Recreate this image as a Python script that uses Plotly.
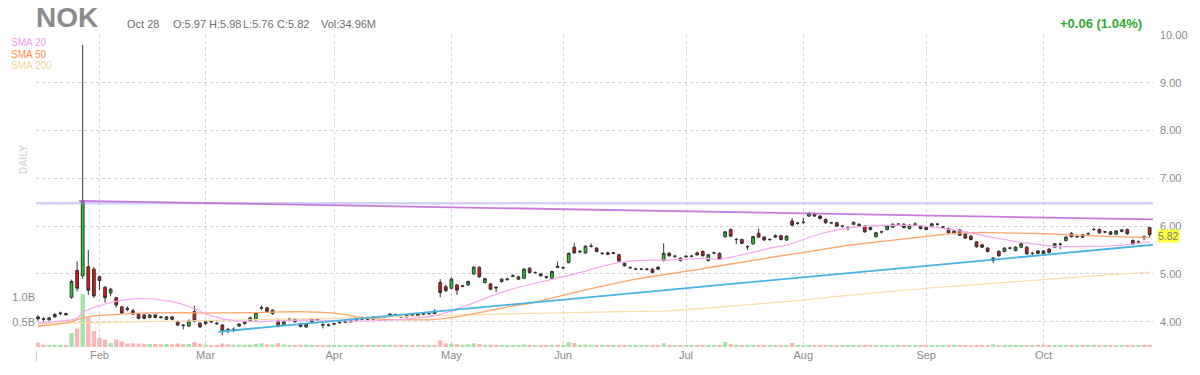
import pandas as pd
import plotly.graph_objects as go

# ---------------- data ----------------
holidays = ["2021-01-18", "2021-02-15", "2021-04-02", "2021-05-31", "2021-07-05", "2021-09-06"]
dates = [d for d in pd.bdate_range("2021-01-14", "2021-10-28") if d.strftime("%Y-%m-%d") not in holidays]

opens = [4.10, 4.06, 4.04, 4.10, 4.17, 4.17, 4.51, 5.07, 4.96, 5.15,
         5.10, 4.94, 4.72, 4.60, 4.50, 4.31, 4.28, 4.23, 4.16, 4.14,
         4.09, 4.14, 4.10, 4.05, 4.10, 4.00, 3.93, 3.91, 4.21, 3.97,
         3.96, 4.01, 3.97, 3.93, 3.84, 3.83, 3.91, 3.96, 4.02, 4.04,
         4.28, 4.29, 4.17, 4.01, 3.93, 4.05, 4.05, 3.95, 3.89, 4.00,
         4.05, 3.94, 3.92, 3.95, 3.98, 3.99, 4.00, 4.03, 4.05, 4.08,
         4.05, 4.10, 4.09, 4.12, 4.15, 4.11, 4.10, 4.15, 4.12, 4.17,
         4.17, 4.22, 4.82, 4.73, 4.70, 4.77, 4.74, 4.77, 5.00, 5.14,
         4.82, 4.79, 4.72, 4.84, 4.88, 4.95, 4.89, 4.91, 5.12, 5.03,
         5.00, 4.94, 4.91, 5.16, 5.13, 5.24, 5.56, 5.46, 5.44, 5.58,
         5.54, 5.43, 5.44, 5.43, 5.40, 5.22, 5.13, 5.10, 5.10, 5.10,
         5.10, 5.14, 5.28, 5.43, 5.37, 5.33, 5.36, 5.37, 5.44, 5.47,
         5.28, 5.44, 5.43, 5.78, 5.93, 5.72, 5.72, 5.57, 5.63, 5.85,
         5.77, 5.72, 5.77, 5.80, 5.71, 6.11, 6.06, 6.08, 6.21, 6.26,
         6.21, 6.14, 6.07, 6.07, 6.00, 5.97, 6.04, 6.00, 6.00, 5.97,
         5.78, 5.88, 5.93, 5.98, 6.04, 6.04, 5.95, 6.04, 6.00, 5.97,
         6.00, 6.04, 5.98, 5.95, 5.85, 5.92, 5.84, 5.79, 5.67, 5.61,
         5.54, 5.28, 5.47, 5.47, 5.54, 5.49, 5.56, 5.56, 5.43, 5.48,
         5.48, 5.52, 5.56, 5.62, 5.70, 5.85, 5.78, 5.82, 5.84, 5.93,
         5.93, 5.88, 5.88, 5.83, 5.89, 5.93, 5.70, 5.67, 5.78, 5.97]

highs = [4.14, 4.09, 4.10, 4.18, 4.21, 4.19, 4.88, 5.26, 9.79, 5.50,
         5.15, 4.96, 4.75, 4.71, 4.52, 4.33, 4.32, 4.27, 4.18, 4.16,
         4.16, 4.16, 4.12, 4.12, 4.12, 4.02, 3.95, 4.05, 4.33, 3.99,
         4.02, 4.03, 3.99, 3.95, 3.87, 3.88, 3.97, 4.01, 4.10, 4.20,
         4.34, 4.31, 4.26, 4.07, 4.02, 4.08, 4.07, 3.97, 3.97, 4.08,
         4.07, 3.97, 3.96, 3.98, 4.01, 4.02, 4.03, 4.07, 4.10, 4.10,
         4.11, 4.12, 4.12, 4.18, 4.17, 4.13, 4.16, 4.17, 4.18, 4.19,
         4.19, 4.26, 4.89, 4.77, 4.93, 4.79, 4.77, 4.86, 5.16, 5.16,
         4.92, 4.81, 4.74, 4.91, 4.92, 4.99, 4.96, 5.12, 5.14, 5.05,
         5.02, 4.96, 5.07, 5.26, 5.16, 5.45, 5.65, 5.50, 5.60, 5.64,
         5.56, 5.46, 5.47, 5.46, 5.42, 5.24, 5.16, 5.13, 5.12, 5.12,
         5.12, 5.16, 5.64, 5.46, 5.40, 5.35, 5.39, 5.40, 5.47, 5.49,
         5.42, 5.47, 5.45, 5.90, 5.95, 5.75, 5.74, 5.60, 5.80, 5.95,
         5.79, 5.75, 5.83, 5.82, 5.81, 6.17, 6.09, 6.17, 6.29, 6.28,
         6.23, 6.16, 6.09, 6.09, 6.02, 5.99, 6.10, 6.06, 6.02, 5.99,
         5.88, 5.90, 6.02, 6.06, 6.06, 6.06, 6.04, 6.08, 6.02, 5.99,
         6.07, 6.06, 6.00, 5.97, 5.92, 5.94, 5.86, 5.81, 5.69, 5.63,
         5.56, 5.35, 5.50, 5.56, 5.57, 5.58, 5.66, 5.58, 5.46, 5.50,
         5.50, 5.54, 5.65, 5.65, 5.79, 5.87, 5.80, 5.84, 5.87, 5.96,
         5.95, 5.90, 5.90, 5.92, 5.94, 5.95, 5.72, 5.70, 5.80, 5.98]

lows = [4.02, 4.01, 4.02, 4.08, 4.13, 4.12, 4.48, 4.63, 4.90, 4.56,
        4.50, 4.66, 4.40, 4.53, 4.30, 4.16, 4.22, 4.14, 4.05, 4.05,
        4.07, 4.07, 4.06, 4.03, 4.03, 3.91, 3.84, 3.89, 3.99, 3.87,
        3.93, 3.97, 3.93, 3.72, 3.76, 3.78, 3.89, 3.94, 4.00, 4.02,
        4.25, 4.19, 4.14, 3.88, 3.91, 4.02, 3.98, 3.88, 3.87, 3.98,
        4.01, 3.86, 3.90, 3.93, 3.96, 3.97, 3.98, 4.01, 4.03, 4.03,
        4.04, 4.07, 4.08, 4.11, 4.12, 4.08, 4.09, 4.12, 4.11, 4.14,
        4.15, 4.16, 4.51, 4.62, 4.68, 4.56, 4.72, 4.75, 4.98, 4.92,
        4.80, 4.66, 4.62, 4.82, 4.86, 4.93, 4.87, 4.89, 5.01, 5.00,
        4.94, 4.90, 4.90, 5.13, 5.10, 5.22, 5.42, 5.43, 5.42, 5.55,
        5.45, 5.40, 5.39, 5.41, 5.25, 5.15, 5.10, 5.08, 5.08, 5.07,
        5.01, 5.08, 5.26, 5.36, 5.34, 5.26, 5.34, 5.35, 5.38, 5.36,
        5.26, 5.41, 5.29, 5.76, 5.77, 5.62, 5.62, 5.50, 5.61, 5.75,
        5.69, 5.69, 5.75, 5.70, 5.69, 6.00, 6.03, 6.04, 6.19, 6.19,
        6.14, 6.05, 6.04, 5.98, 5.97, 5.91, 6.02, 5.98, 5.86, 5.91,
        5.76, 5.85, 5.91, 5.96, 6.01, 5.95, 5.93, 6.02, 5.93, 5.91,
        5.98, 6.01, 5.95, 5.84, 5.83, 5.79, 5.73, 5.70, 5.55, 5.54,
        5.45, 5.23, 5.36, 5.45, 5.51, 5.47, 5.54, 5.40, 5.38, 5.41,
        5.40, 5.43, 5.54, 5.52, 5.68, 5.76, 5.75, 5.75, 5.82, 5.90,
        5.84, 5.85, 5.81, 5.81, 5.87, 5.82, 5.61, 5.63, 5.70, 5.76]

closes = [4.06, 4.05, 4.08, 4.15, 4.18, 4.15, 4.84, 4.70, 6.53, 4.66,
          4.54, 4.86, 4.50, 4.68, 4.35, 4.18, 4.26, 4.16, 4.07, 4.07,
          4.14, 4.09, 4.09, 4.10, 4.05, 3.93, 3.92, 4.02, 4.01, 3.89,
          4.00, 4.00, 3.96, 3.81, 3.83, 3.84, 3.95, 3.99, 4.08, 4.19,
          4.29, 4.21, 4.24, 3.90, 4.00, 4.06, 4.00, 3.90, 3.95, 4.06,
          4.04, 3.93, 3.93, 3.96, 3.99, 4.00, 4.01, 4.06, 4.09, 4.05,
          4.10, 4.09, 4.10, 4.16, 4.14, 4.10, 4.15, 4.14, 4.17, 4.16,
          4.17, 4.17, 4.61, 4.65, 4.89, 4.66, 4.75, 4.84, 5.14, 4.94,
          4.90, 4.68, 4.71, 4.89, 4.89, 4.96, 4.94, 5.10, 5.03, 5.03,
          4.96, 4.93, 5.05, 5.14, 5.13, 5.43, 5.44, 5.47, 5.58, 5.58,
          5.47, 5.43, 5.41, 5.44, 5.27, 5.17, 5.13, 5.10, 5.10, 5.10,
          5.03, 5.10, 5.43, 5.38, 5.37, 5.28, 5.37, 5.37, 5.40, 5.38,
          5.40, 5.44, 5.31, 5.88, 5.79, 5.72, 5.64, 5.57, 5.78, 5.77,
          5.71, 5.72, 5.80, 5.72, 5.79, 6.02, 6.06, 6.08, 6.27, 6.21,
          6.16, 6.07, 6.07, 6.00, 6.00, 5.97, 6.08, 6.04, 5.88, 5.93,
          5.86, 5.88, 6.00, 6.04, 6.04, 5.97, 6.02, 6.04, 5.95, 5.93,
          6.05, 6.04, 5.98, 5.86, 5.90, 5.81, 5.75, 5.72, 5.57, 5.56,
          5.47, 5.33, 5.38, 5.54, 5.54, 5.56, 5.63, 5.42, 5.43, 5.43,
          5.43, 5.45, 5.63, 5.62, 5.77, 5.78, 5.78, 5.77, 5.84, 5.93,
          5.86, 5.88, 5.83, 5.90, 5.92, 5.84, 5.63, 5.67, 5.76, 5.82]

volume_m = [90, 45, 40, 45, 40, 40, 280, 370, 1060, 590,
            320, 180, 150, 80, 150, 110, 70, 75, 70, 65,
            60, 60, 55, 60, 55, 70, 55, 60, 95, 65,
            50, 40, 45, 70, 55, 45, 50, 45, 50, 65,
            75, 55, 50, 80, 50, 40, 40, 45, 45, 40,
            35, 40, 35, 35, 30, 30, 35, 40, 35, 35,
            40, 30, 30, 35, 30, 30, 35, 30, 30, 30,
            35, 40, 130, 70, 70, 55, 45, 55, 75, 60,
            45, 45, 40, 40, 35, 40, 35, 50, 45, 35,
            35, 30, 45, 45, 40, 95, 80, 45, 50, 45,
            40, 35, 35, 30, 40, 40, 35, 30, 30, 30,
            35, 35, 75, 45, 35, 35, 30, 30, 35, 35,
            35, 30, 40, 100, 60, 45, 40, 45, 45, 40,
            35, 35, 30, 35, 35, 80, 45, 40, 45, 40,
            35, 35, 30, 30, 30, 35, 35, 30, 35, 30,
            35, 30, 35, 35, 30, 30, 30, 30, 30, 30,
            30, 30, 30, 35, 30, 35, 35, 30, 40, 35,
            40, 55, 40, 35, 30, 30, 35, 40, 35, 35,
            50, 40, 35, 35, 40, 40, 30, 30, 30, 35,
            30, 30, 30, 30, 30, 35, 40, 35, 35, 34.96]

# moving averages (trading-day index, value)
sma20_idx = [0, 3, 6, 7, 8, 9, 10, 12, 15, 18, 21, 24, 26, 28, 30, 33, 36, 40, 44, 48, 52, 56, 60, 64, 68, 71,
             74, 77, 80, 83, 86, 89, 92, 95, 98, 101, 104, 107, 110, 113, 116, 119, 122, 125, 128, 131, 134,
             137, 140, 143, 146, 150, 154, 158, 161, 164, 167, 170, 173, 176, 179, 182, 185, 188, 191, 194, 197, 199]
sma20_val = [3.98, 4.00, 4.04, 4.07, 4.20, 4.25, 4.30, 4.37, 4.45, 4.49, 4.47, 4.42, 4.36, 4.27, 4.16, 4.06, 4.01,
             4.00, 4.02, 4.04, 4.03, 4.01, 4.02, 4.04, 4.08, 4.12,
             4.22, 4.35, 4.48, 4.62, 4.72, 4.80, 4.88, 4.97, 5.06, 5.16, 5.24, 5.28, 5.29, 5.29, 5.31, 5.33, 5.30,
             5.37, 5.45, 5.54, 5.60, 5.72, 5.84, 5.92, 5.98, 6.01, 6.02, 6.01, 5.97, 5.92, 5.86, 5.78, 5.72, 5.66,
             5.62, 5.57, 5.57, 5.57, 5.58, 5.60, 5.64, 5.67]

sma50_idx = [0, 3, 6, 8, 10, 12, 15, 18, 22, 26, 30, 34, 38, 42, 46, 50, 53, 55, 57, 59, 62, 66, 70, 73, 76, 79,
             82, 85, 88, 91, 94, 97, 100, 103, 106, 109, 112, 115, 118, 121, 124, 127, 130, 133, 136, 139, 142,
             145, 148, 151, 154, 157, 160, 163, 166, 169, 172, 175, 178, 181, 184, 187, 190, 193, 196, 199]
sma50_val = [3.91, 3.94, 4.00, 4.08, 4.12, 4.14, 4.16, 4.18, 4.19, 4.19, 4.18, 4.18, 4.19, 4.20, 4.21, 4.20, 4.18,
             4.15, 4.10, 4.07, 4.05, 4.04, 4.04, 4.07, 4.12, 4.19,
             4.26, 4.33, 4.38, 4.46, 4.55, 4.64, 4.72, 4.80, 4.87, 4.93, 4.98, 5.04, 5.09, 5.15, 5.21, 5.27, 5.33,
             5.38, 5.43, 5.49, 5.55, 5.60, 5.64, 5.68, 5.72, 5.77, 5.80, 5.84, 5.86, 5.87, 5.86, 5.86, 5.85, 5.84,
             5.82, 5.80, 5.79, 5.78, 5.77, 5.76]

sma200_idx = [0, 20, 40, 60, 75, 85, 95, 105, 112, 118, 124, 130, 137, 143, 150, 155, 160, 165, 170, 175, 180,
              185, 190, 195, 199]
sma200_val = [3.96, 4.00, 4.04, 4.09, 4.14, 4.17, 4.19, 4.21, 4.22, 4.27, 4.33, 4.38, 4.45, 4.53, 4.61, 4.66,
              4.71, 4.75, 4.80, 4.84, 4.88, 4.92, 4.96, 5.00, 5.04]

# drawn trend lines (trading-day index, price)
resist_flat_x = [-0.4, 199.6]
resist_flat_y = [6.48, 6.48]
resist_down_x = [7.3, 199.6]
resist_down_y = [6.53, 6.14]
support_x = [32.3, 199.6]
support_y = [3.79, 5.61]

price_ticks = [4, 5, 6, 7, 8, 9, 10]
vol_ticks = [500, 1000]
vol_tick_text = ["0.5B", "1.0B"]

# ---------------- figure ----------------
n = len(dates)
idx = list(range(n))
month_pos, month_txt = [], []
for i in range(1, n):
    if dates[i].month != dates[i - 1].month:
        month_pos.append(i)
        month_txt.append(dates[i].strftime("%b"))

GREEN = "#22cf22"
RED = "#e01414"
vol_colors = ["#a6e3a6" if c >= o else "#f8b6b6" for o, c in zip(opens, closes)]

FONT = "Arial, 'Liberation Sans', Helvetica, sans-serif"
L, R, T, B = 33, 1157, 35, 347
W, H = 1200, 375


def px(x):
    return (x - L) / (R - L)


def py(y):
    return (B - y) / (B - T)


fig = go.Figure()

fig.add_trace(go.Bar(x=idx, y=volume_m, marker=dict(color=vol_colors, line=dict(width=0)),
                     yaxis="y", hoverinfo="skip", showlegend=False))

fig.add_trace(go.Scatter(x=sma200_idx, y=sma200_val, mode="lines", yaxis="y2",
                         line=dict(color="#fbdca8", width=1.2), hoverinfo="skip", showlegend=False))
fig.add_trace(go.Scatter(x=sma50_idx, y=sma50_val, mode="lines", yaxis="y2",
                         line=dict(color="#ffa566", width=1.3), hoverinfo="skip", showlegend=False))
fig.add_trace(go.Scatter(x=sma20_idx, y=sma20_val, mode="lines", yaxis="y2",
                         line=dict(color="#f4a8ee", width=1.2), hoverinfo="skip", showlegend=False))

fig.add_trace(go.Scatter(x=resist_flat_x, y=resist_flat_y, mode="lines", yaxis="y2",
                         line=dict(color="rgba(160,150,238,0.45)", width=2.5), hoverinfo="skip", showlegend=False))
fig.add_trace(go.Scatter(x=resist_down_x, y=resist_down_y, mode="lines", yaxis="y2",
                         line=dict(color="rgba(190,100,215,0.85)", width=1.8), hoverinfo="skip", showlegend=False))
fig.add_trace(go.Scatter(x=support_x, y=support_y, mode="lines", yaxis="y2",
                         line=dict(color="#4ab2e6", width=1.8), hoverinfo="skip", showlegend=False))

fig.add_trace(go.Candlestick(x=idx, open=opens, high=highs, low=lows, close=closes, yaxis="y2",
                             increasing=dict(fillcolor=GREEN, line=dict(color="#333333", width=1)),
                             decreasing=dict(fillcolor=RED, line=dict(color="#333333", width=1)),
                             whiskerwidth=0, hoverinfo="skip", showlegend=False))

grey = "#8a8a8a"
fig.update_layout(
    width=W, height=H,
    margin=dict(l=L, r=W - R, t=T, b=H - B, pad=0),
    paper_bgcolor="white", plot_bgcolor="white",
    font=dict(family=FONT, size=11, color=grey),
    hovermode=False, showlegend=False, bargap=0.22, boxgap=0.3,
    xaxis=dict(range=[-0.36, 199.6], tickvals=month_pos, ticktext=month_txt, showgrid=True,
               gridcolor="#d4d4d4", griddash="dot", gridwidth=1, zeroline=False, showline=False,
               ticks="", tickfont=dict(size=11, color=grey), rangeslider=dict(visible=False),
               fixedrange=True),
    yaxis=dict(range=[0, 6240], tickvals=vol_ticks, ticktext=vol_tick_text, side="left",
               showgrid=False, zeroline=False, showline=False, ticks="",
               tickfont=dict(size=11, color=grey), fixedrange=True),
    yaxis2=dict(range=[3.4705, 10.0], overlaying="y", side="right", tickvals=price_ticks,
                tickformat=".2f", showgrid=True, gridcolor="#d0d0d0", griddash="dot", gridwidth=1,
                zeroline=False, showline=False, ticks="", ticklabelstandoff=6,
                tickfont=dict(size=11, color=grey), fixedrange=True),
)

ann = []
ann.append(dict(text="<b>NOK</b>", x=px(31), y=py(18), xref="paper", yref="paper", xanchor="left",
                yanchor="middle", showarrow=False, font=dict(size=28, color="#8c8c8c", family=FONT)))
last = n - 1
header = [(125, dates[last].strftime("%b %d")),
          (171, f"O:{opens[last]:.2f}"),
          (207, f"H:{highs[last]:.2f}"),
          (241, f"L:{lows[last]:.2f}"),
          (275, f"C:{closes[last]:.2f}"),
          (320, f"Vol:{volume_m[last]:.2f}M")]
for hx, ht in header:
    ann.append(dict(text=ht, x=px(hx - 2), y=py(24), xref="paper", yref="paper", xanchor="left",
                    yanchor="middle", showarrow=False, font=dict(size=11, color="#6e6e6e")))
chg = closes[last] - closes[last - 1]
pct = chg / closes[last - 1] * 100
ann.append(dict(text=f"<b>{chg:+.2f} ({pct:.2f}%)</b>", x=px(1148), y=py(24), xref="paper", yref="paper",
                xanchor="right", yanchor="middle", showarrow=False, font=dict(size=13, color="#2fab2f")))
for ly, lt, lc in [(42.5, "SMA 20", "#f29be6"), (54, "SMA 50", "#ff8f3f"), (65, "SMA 200", "#f0d59a")]:
    ann.append(dict(text=lt, x=px(6), y=py(ly), xref="paper", yref="paper", xanchor="left",
                    yanchor="middle", showarrow=False, font=dict(size=10, color=lc)))
ann.append(dict(text="<b>DAILY</b>", x=px(20), y=py(160), xref="paper", yref="paper", xanchor="center",
                yanchor="middle", textangle=-90, showarrow=False, font=dict(size=10, color="#d9d9d9")))
ann.append(dict(text=f"{closes[last]:.2f}", x=px(1161), y=closes[last], xref="paper", yref="y2",
                xanchor="left", yanchor="middle", yshift=-1, showarrow=False, bgcolor="#ffff3c", borderpad=0,
                font=dict(size=10.5, color="#7a7a7a")))
ann.append(dict(text="|", x=px(34), y=py(356), xref="paper", yref="paper", xanchor="center",
                yanchor="middle", showarrow=False, font=dict(size=10, color="#c0c0c0")))
fig.update_layout(annotations=ann)

fig.write_html("out.html")
